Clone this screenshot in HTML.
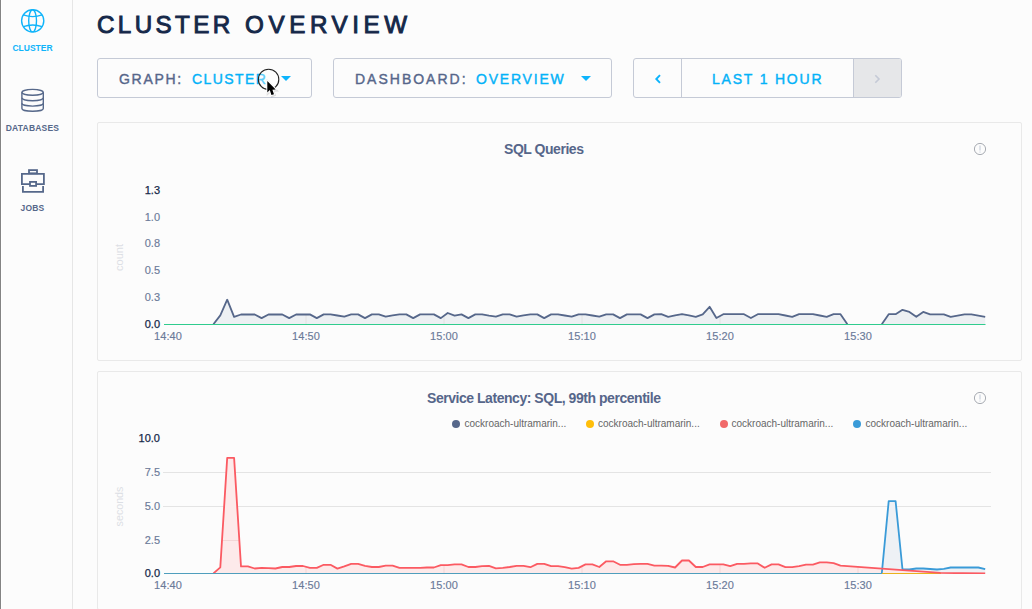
<!DOCTYPE html>
<html>
<head>
<meta charset="utf-8">
<style>
html,body{margin:0;padding:0}
body{width:1032px;height:609px;overflow:hidden;position:relative;background:#fcfcfc;font-family:"Liberation Sans",sans-serif}
.abs{position:absolute}
#edge{position:absolute;left:0;top:0;width:1px;height:609px;background:#848484}
#edge2{position:absolute;left:1px;top:0;width:1px;height:609px;background:#ffffff}
#side{position:absolute;left:2px;top:0;width:70px;height:609px;background:#fcfcfc;border-right:1px solid #e6e6e6}
.nav{position:absolute;left:0;width:65px;text-align:center;font-weight:bold;font-size:8.5px;letter-spacing:0.2px;line-height:8px;color:#56688a}
.nav.act{color:#10b4fa}
h1{position:absolute;margin:0;top:9.95px;font-size:24.2px;line-height:30px;font-weight:normal;color:#152849;-webkit-text-stroke:0.95px #152849;white-space:nowrap}
.box{position:absolute;top:58px;height:38px;border:1px solid #c5cad6;border-radius:3px;box-sizing:content-box}
.lbl{position:absolute;top:71px;font-size:14px;line-height:16px;white-space:nowrap;color:#56668a;-webkit-text-stroke:0.4px #56668a}
.lbl.val{color:#03b2f8;-webkit-text-stroke:0.4px #03b2f8}
.tri{position:absolute;width:0;height:0;border-left:5px solid transparent;border-right:5px solid transparent;border-top:5px solid #0db4fc}
.panel{position:absolute;left:97px;width:923px;height:237px;border:1px solid #e9e9e9;border-radius:2px;background:#fcfcfc}
.ttl{position:absolute;font-weight:bold;font-size:14px;letter-spacing:-0.46px;line-height:16px;color:#56668a;white-space:nowrap}
.xl{position:absolute;width:60px;text-align:center;font-size:11px;letter-spacing:0.05px;line-height:12px;color:#6b7a99;-webkit-text-stroke:0.15px #6b7a99}
.yl{position:absolute;left:120px;width:40px;text-align:right;font-size:11px;line-height:13px;color:#6b7a99;-webkit-text-stroke:0.15px #6b7a99}
.yl.b{color:#152849;-webkit-text-stroke:0.25px #152849}
.axl{position:absolute;font-size:11px;line-height:11px;color:#dcdfe5;transform:rotate(-90deg);transform-origin:center center;white-space:nowrap}
.leg{position:absolute;top:418px;font-size:10px;line-height:12px;color:#666;white-space:nowrap}
.dot{position:absolute;top:419.6px;width:8px;height:8px;border-radius:50%}
svg{position:absolute;left:0;top:0}
</style>
</head>
<body>
<div id="edge"></div><div id="edge2"></div>
<div id="side"></div>

<!-- sidebar icons -->
<svg width="72" height="609" viewBox="0 0 72 609" style="left:0;top:0">
  <g fill="none" stroke="#10b4fa" stroke-width="1.4">
    <circle cx="32.7" cy="20.8" r="11.1"/>
    <ellipse cx="32.6" cy="20.8" rx="3.9" ry="11.1"/>
    <path d="M23.3,14.9 Q32.7,18.4 42.1,14.9"/>
    <path d="M23.3,26.7 Q32.7,23.2 42.1,26.7"/>
  </g>
  <g fill="none" stroke="#56688a" stroke-width="1.4">
    <ellipse cx="32.6" cy="92.3" rx="10.7" ry="2.9"/>
    <path d="M21.9,92.3 V108.4 A10.7,2.9 0 0 0 43.3,108.4 V92.3"/>
    <path d="M21.9,97.8 A10.7,2.9 0 0 0 43.3,97.8"/>
    <path d="M21.9,103.2 A10.7,2.9 0 0 0 43.3,103.2"/>
  </g>
  <g fill="none" stroke="#56688a" stroke-width="1.8">
    <rect x="29" y="170.1" width="8" height="3.2"/>
    <path d="M30,184.1 H21.9 V173.9 H43.9 V184.1 H36.1"/>
    <rect x="30" y="181.9" width="6.1" height="4"/>
    <path d="M22.9,186.1 V191.9 H43.1 V186.1"/>
  </g>
</svg>
<div class="nav act" style="top:44px;letter-spacing:0">CLUSTER</div>
<div class="nav" style="top:124px">DATABASES</div>
<div class="nav" style="top:204px">JOBS</div>

<h1 style="left:97px;letter-spacing:3.4px">CLUSTER</h1><h1 style="left:245px;letter-spacing:4.6px">OVERVIEW</h1>

<!-- controls -->
<div class="box" style="left:97px;width:213px"></div>
<div class="lbl" style="left:119px;letter-spacing:1.7px">GRAPH:</div>
<div class="lbl val" style="left:192px;letter-spacing:1.4px">CLUSTER</div>
<div class="tri" style="left:281px;top:76px"></div>

<div class="box" style="left:333px;width:277px"></div>
<div class="lbl" style="left:355px;letter-spacing:2px">DASHBOARD:</div>
<div class="lbl val" style="left:476px;letter-spacing:1.8px">OVERVIEW</div>
<div class="tri" style="left:581px;top:76px"></div>

<div class="box" style="left:633px;width:267px;overflow:hidden">
  <div style="position:absolute;left:47px;top:0;width:1px;height:38px;background:#c5cad6"></div>
  <div style="position:absolute;left:219px;top:0;width:1px;height:38px;background:#c5cad6"></div>
  <div style="position:absolute;left:220px;top:0;width:47px;height:38px;background:#e6e7e9"></div>
</div>
<div class="lbl val" style="left:712px;letter-spacing:1.8px">LAST 1 HOUR</div>
<svg width="1032" height="120" viewBox="0 0 1032 120" style="left:0;top:0">
  <path d="M660,75.2 L656.3,79 L660,82.8" fill="none" stroke="#0db4fc" stroke-width="1.9"/>
  <path d="M875.3,75.2 L879,79 L875.3,82.8" fill="none" stroke="#c5cad6" stroke-width="1.6"/>
</svg>

<!-- panel 1 -->
<div class="panel" style="top:122px"></div>
<div class="ttl" style="left:504px;top:141px">SQL Queries</div>
<div class="yl b" style="top:183.5px">1.3</div>
<div class="yl" style="top:210.5px">1.0</div>
<div class="yl" style="top:236.7px">0.8</div>
<div class="yl" style="top:264.0px">0.5</div>
<div class="yl" style="top:290.9px">0.3</div>
<div class="yl b" style="top:318.0px">0.0</div>
<div class="xl" style="left:138.0px;top:330px">14:40</div>
<div class="xl" style="left:276.0px;top:330px">14:50</div>
<div class="xl" style="left:414.0px;top:330px">15:00</div>
<div class="xl" style="left:552.0px;top:330px">15:10</div>
<div class="xl" style="left:690.0px;top:330px">15:20</div>
<div class="xl" style="left:828.0px;top:330px">15:30</div>
<div class="axl" style="left:104.2px;top:252px;width:30px;text-align:center">count</div>

<!-- panel 2 -->
<div class="panel" style="top:371px;height:237px"></div>
<div class="ttl" style="left:427px;top:390px">Service Latency: SQL, 99th percentile</div>
<div class="dot" style="left:452px;background:#56678a"></div>
<div class="leg" style="left:464.5px">cockroach-ultramarin...</div>
<div class="dot" style="left:586px;background:#ffbe0a"></div>
<div class="leg" style="left:598px">cockroach-ultramarin...</div>
<div class="dot" style="left:719.5px;background:#f16969"></div>
<div class="leg" style="left:731.5px">cockroach-ultramarin...</div>
<div class="dot" style="left:853px;background:#3a9bd8"></div>
<div class="leg" style="left:865.5px">cockroach-ultramarin...</div>
<div class="yl b" style="top:432.3px">10.0</div>
<div class="yl" style="top:465.9px">7.5</div>
<div class="yl" style="top:500.0px">5.0</div>
<div class="yl" style="top:533.6px">2.5</div>
<div class="yl b" style="top:566.9px">0.0</div>
<div class="xl" style="left:138.0px;top:579px">14:40</div>
<div class="xl" style="left:276.0px;top:579px">14:50</div>
<div class="xl" style="left:414.0px;top:579px">15:00</div>
<div class="xl" style="left:552.0px;top:579px">15:10</div>
<div class="xl" style="left:690.0px;top:579px">15:20</div>
<div class="xl" style="left:828.0px;top:579px">15:30</div>
<div class="axl" style="left:94.1px;top:501px;width:50px;text-align:center;font-size:10.7px">seconds</div>

<svg width="1032" height="609" viewBox="0 0 1032 609" style="left:0;top:0">
  <defs>
    <clipPath id="cf1"><path d="M164.0,324.5 L213.4,324.3 L220.3,315.4 L227.2,299.7 L234.1,316.9 L241.0,314.5 L247.9,314.5 L254.7,314.5 L261.6,318.1 L268.5,314.5 L275.4,314.5 L282.3,314.5 L289.2,318.1 L296.1,314.5 L303.0,314.5 L309.9,314.4 L316.8,318.1 L323.7,314.4 L330.5,314.4 L337.4,315.5 L344.3,316.7 L351.2,314.4 L358.1,314.4 L365.0,318.1 L371.9,314.4 L378.8,314.4 L385.7,316.7 L392.6,315.4 L399.5,314.4 L406.3,314.4 L413.2,318.1 L420.1,314.4 L427.0,314.4 L433.9,314.4 L440.8,318.1 L447.7,313.0 L454.6,315.7 L461.5,314.4 L468.4,318.1 L475.3,314.4 L482.1,314.4 L489.0,315.7 L495.9,316.7 L502.8,314.4 L509.7,314.4 L516.6,316.7 L523.5,315.4 L530.4,314.4 L537.3,314.4 L544.2,318.1 L551.1,314.4 L558.0,314.4 L564.8,315.5 L571.7,316.7 L578.6,314.4 L585.5,314.4 L592.4,315.5 L599.3,316.7 L606.2,314.4 L613.1,314.4 L620.0,318.1 L626.9,314.4 L633.8,314.4 L640.6,314.4 L647.5,318.1 L654.4,314.4 L661.3,314.2 L668.2,316.8 L675.1,315.4 L682.0,314.2 L688.9,315.4 L695.8,316.8 L702.7,314.4 L709.6,306.8 L716.4,318.0 L723.3,314.2 L730.2,314.2 L737.1,314.2 L744.0,314.2 L750.9,318.0 L757.8,314.2 L764.7,314.2 L771.6,314.2 L778.5,314.2 L785.4,315.5 L792.2,316.8 L799.1,314.2 L806.0,314.2 L812.9,314.2 L819.8,315.5 L826.7,316.8 L833.6,314.2 L840.5,314.2 L847.4,324.3 L854.3,324.3 L861.2,324.3 L868.0,324.3 L874.9,324.3 L881.8,324.3 L888.7,314.2 L895.6,314.2 L902.5,309.8 L909.4,311.9 L916.3,316.8 L923.2,311.9 L930.1,314.4 L937.0,314.4 L943.8,314.4 L950.7,316.8 L957.6,315.6 L964.5,314.4 L971.4,314.4 L978.3,315.6 L985.2,316.8 L985.2,324.5 L164.0,324.5 Z"/></clipPath>
    <clipPath id="cf2"><path d="M213.4,573.4 L220.3,567.4 L227.2,457.9 L234.1,457.9 L241.0,566.4 L247.9,566.4 L254.7,568.5 L261.6,567.9 L268.5,568.2 L275.4,568.5 L282.3,567.0 L289.2,567.0 L296.1,566.0 L303.0,566.0 L309.9,567.9 L316.8,567.9 L323.7,564.8 L330.5,564.8 L337.4,568.6 L344.3,566.4 L351.2,563.9 L358.1,563.9 L365.0,565.9 L371.9,567.0 L378.8,567.0 L385.7,565.6 L392.6,565.6 L399.5,567.9 L406.3,567.9 L413.2,567.9 L420.1,567.9 L427.0,567.5 L433.9,567.5 L440.8,565.2 L447.7,565.2 L454.6,564.4 L461.5,564.4 L468.4,567.0 L475.3,567.0 L482.1,566.2 L489.0,565.9 L495.9,568.3 L502.8,567.9 L509.7,567.0 L516.6,565.9 L523.5,565.9 L530.4,567.2 L537.3,563.9 L544.2,563.9 L551.1,566.2 L558.0,566.2 L564.8,567.2 L571.7,568.7 L578.6,567.9 L585.5,564.4 L592.4,564.4 L599.3,567.0 L606.2,561.3 L613.1,561.3 L620.0,564.8 L626.9,564.8 L633.8,564.2 L640.6,563.9 L647.5,563.9 L654.4,565.6 L661.3,565.6 L668.2,565.9 L675.1,567.5 L682.0,560.5 L688.9,560.5 L695.8,567.0 L702.7,567.0 L709.6,564.4 L716.4,564.4 L723.3,564.4 L730.2,566.2 L737.1,563.9 L744.0,563.9 L750.9,563.4 L757.8,563.4 L764.7,567.8 L771.6,564.4 L778.5,564.4 L785.4,567.2 L792.2,567.2 L799.1,566.2 L806.0,564.6 L812.9,564.6 L819.8,562.3 L826.7,562.3 L833.6,563.1 L840.5,565.6 L940.5,572.9 L985.2,573.5 L985.2,573.5 L213.4,573.5 Z"/></clipPath>
    <clipPath id="ca2"><rect x="150" y="430" width="850" height="144"/></clipPath>
    <clipPath id="ca1"><rect x="150" y="180" width="850" height="145"/></clipPath>
  </defs>
  <!-- info icons -->
  <g fill="none" stroke="#a8acb3" stroke-width="1">
    <circle cx="980" cy="149" r="5.6"/>
    <circle cx="980" cy="398" r="5.6"/>
  </g>
  <g stroke="#b9c3d3" stroke-width="0.9">
    <line x1="980" y1="145.5" x2="980" y2="150.5"/>
    <line x1="980" y1="151.6" x2="980" y2="152.6"/>
    <line x1="980" y1="394.5" x2="980" y2="399.5"/>
    <line x1="980" y1="400.6" x2="980" y2="401.6"/>
  </g>
  <!-- chart 1 -->
  <path d="M164.0,324.5 L213.4,324.3 L220.3,315.4 L227.2,299.7 L234.1,316.9 L241.0,314.5 L247.9,314.5 L254.7,314.5 L261.6,318.1 L268.5,314.5 L275.4,314.5 L282.3,314.5 L289.2,318.1 L296.1,314.5 L303.0,314.5 L309.9,314.4 L316.8,318.1 L323.7,314.4 L330.5,314.4 L337.4,315.5 L344.3,316.7 L351.2,314.4 L358.1,314.4 L365.0,318.1 L371.9,314.4 L378.8,314.4 L385.7,316.7 L392.6,315.4 L399.5,314.4 L406.3,314.4 L413.2,318.1 L420.1,314.4 L427.0,314.4 L433.9,314.4 L440.8,318.1 L447.7,313.0 L454.6,315.7 L461.5,314.4 L468.4,318.1 L475.3,314.4 L482.1,314.4 L489.0,315.7 L495.9,316.7 L502.8,314.4 L509.7,314.4 L516.6,316.7 L523.5,315.4 L530.4,314.4 L537.3,314.4 L544.2,318.1 L551.1,314.4 L558.0,314.4 L564.8,315.5 L571.7,316.7 L578.6,314.4 L585.5,314.4 L592.4,315.5 L599.3,316.7 L606.2,314.4 L613.1,314.4 L620.0,318.1 L626.9,314.4 L633.8,314.4 L640.6,314.4 L647.5,318.1 L654.4,314.4 L661.3,314.2 L668.2,316.8 L675.1,315.4 L682.0,314.2 L688.9,315.4 L695.8,316.8 L702.7,314.4 L709.6,306.8 L716.4,318.0 L723.3,314.2 L730.2,314.2 L737.1,314.2 L744.0,314.2 L750.9,318.0 L757.8,314.2 L764.7,314.2 L771.6,314.2 L778.5,314.2 L785.4,315.5 L792.2,316.8 L799.1,314.2 L806.0,314.2 L812.9,314.2 L819.8,315.5 L826.7,316.8 L833.6,314.2 L840.5,314.2 L847.4,324.3 L854.3,324.3 L861.2,324.3 L868.0,324.3 L874.9,324.3 L881.8,324.3 L888.7,314.2 L895.6,314.2 L902.5,309.8 L909.4,311.9 L916.3,316.8 L923.2,311.9 L930.1,314.4 L937.0,314.4 L943.8,314.4 L950.7,316.8 L957.6,315.6 L964.5,314.4 L971.4,314.4 L978.3,315.6 L985.2,316.8 L985.2,324.5 L164.0,324.5 Z" fill="#edf0f3"/>
  <g stroke="#e2e2e2" stroke-width="1" clip-path="url(#cf1)"><line x1="168.0" y1="190" x2="168.0" y2="324" /><line x1="306.0" y1="190" x2="306.0" y2="324" /><line x1="444.0" y1="190" x2="444.0" y2="324" /><line x1="582.0" y1="190" x2="582.0" y2="324" /><line x1="720.0" y1="190" x2="720.0" y2="324" /><line x1="858.0" y1="190" x2="858.0" y2="324" /></g>
  <path d="M213.4,324.3 L220.3,315.4 L227.2,299.7 L234.1,316.9 L241.0,314.5 L247.9,314.5 L254.7,314.5 L261.6,318.1 L268.5,314.5 L275.4,314.5 L282.3,314.5 L289.2,318.1 L296.1,314.5 L303.0,314.5 L309.9,314.4 L316.8,318.1 L323.7,314.4 L330.5,314.4 L337.4,315.5 L344.3,316.7 L351.2,314.4 L358.1,314.4 L365.0,318.1 L371.9,314.4 L378.8,314.4 L385.7,316.7 L392.6,315.4 L399.5,314.4 L406.3,314.4 L413.2,318.1 L420.1,314.4 L427.0,314.4 L433.9,314.4 L440.8,318.1 L447.7,313.0 L454.6,315.7 L461.5,314.4 L468.4,318.1 L475.3,314.4 L482.1,314.4 L489.0,315.7 L495.9,316.7 L502.8,314.4 L509.7,314.4 L516.6,316.7 L523.5,315.4 L530.4,314.4 L537.3,314.4 L544.2,318.1 L551.1,314.4 L558.0,314.4 L564.8,315.5 L571.7,316.7 L578.6,314.4 L585.5,314.4 L592.4,315.5 L599.3,316.7 L606.2,314.4 L613.1,314.4 L620.0,318.1 L626.9,314.4 L633.8,314.4 L640.6,314.4 L647.5,318.1 L654.4,314.4 L661.3,314.2 L668.2,316.8 L675.1,315.4 L682.0,314.2 L688.9,315.4 L695.8,316.8 L702.7,314.4 L709.6,306.8 L716.4,318.0 L723.3,314.2 L730.2,314.2 L737.1,314.2 L744.0,314.2 L750.9,318.0 L757.8,314.2 L764.7,314.2 L771.6,314.2 L778.5,314.2 L785.4,315.5 L792.2,316.8 L799.1,314.2 L806.0,314.2 L812.9,314.2 L819.8,315.5 L826.7,316.8 L833.6,314.2 L840.5,314.2 L847.4,324.3 M881.8,324.3 L888.7,314.2 L895.6,314.2 L902.5,309.8 L909.4,311.9 L916.3,316.8 L923.2,311.9 L930.1,314.4 L937.0,314.4 L943.8,314.4 L950.7,316.8 L957.6,315.6 L964.5,314.4 L971.4,314.4 L978.3,315.6 L985.2,316.8" fill="none" stroke="#56678a" stroke-width="1.8" stroke-linejoin="round" clip-path="url(#ca1)"/>
  <line x1="164" y1="324.5" x2="985.5" y2="324.5" stroke="#30cc8e" stroke-width="1.2"/>
  <!-- chart 2 grid -->
  <g stroke="#e4e4e4" stroke-width="1">
    <line x1="163" y1="472.5" x2="991" y2="472.5"/>
    <line x1="163" y1="506.5" x2="991" y2="506.5"/>
  </g>
  <path d="M164.0,573.5 L881.8,573.4 L888.7,501.2 L895.6,501.2 L902.5,569.5 L909.4,569.5 L916.3,568.5 L923.2,568.5 L930.1,569.0 L937.0,569.5 L943.8,568.9 L950.7,567.5 L957.6,567.5 L964.5,567.5 L971.4,567.5 L978.3,567.5 L985.2,569.1 L985.2,573.5 L164.0,573.5 Z" fill="#eef1f5"/>
  <path d="M213.4,573.4 L220.3,567.4 L227.2,457.9 L234.1,457.9 L241.0,566.4 L247.9,566.4 L254.7,568.5 L261.6,567.9 L268.5,568.2 L275.4,568.5 L282.3,567.0 L289.2,567.0 L296.1,566.0 L303.0,566.0 L309.9,567.9 L316.8,567.9 L323.7,564.8 L330.5,564.8 L337.4,568.6 L344.3,566.4 L351.2,563.9 L358.1,563.9 L365.0,565.9 L371.9,567.0 L378.8,567.0 L385.7,565.6 L392.6,565.6 L399.5,567.9 L406.3,567.9 L413.2,567.9 L420.1,567.9 L427.0,567.5 L433.9,567.5 L440.8,565.2 L447.7,565.2 L454.6,564.4 L461.5,564.4 L468.4,567.0 L475.3,567.0 L482.1,566.2 L489.0,565.9 L495.9,568.3 L502.8,567.9 L509.7,567.0 L516.6,565.9 L523.5,565.9 L530.4,567.2 L537.3,563.9 L544.2,563.9 L551.1,566.2 L558.0,566.2 L564.8,567.2 L571.7,568.7 L578.6,567.9 L585.5,564.4 L592.4,564.4 L599.3,567.0 L606.2,561.3 L613.1,561.3 L620.0,564.8 L626.9,564.8 L633.8,564.2 L640.6,563.9 L647.5,563.9 L654.4,565.6 L661.3,565.6 L668.2,565.9 L675.1,567.5 L682.0,560.5 L688.9,560.5 L695.8,567.0 L702.7,567.0 L709.6,564.4 L716.4,564.4 L723.3,564.4 L730.2,566.2 L737.1,563.9 L744.0,563.9 L750.9,563.4 L757.8,563.4 L764.7,567.8 L771.6,564.4 L778.5,564.4 L785.4,567.2 L792.2,567.2 L799.1,566.2 L806.0,564.6 L812.9,564.6 L819.8,562.3 L826.7,562.3 L833.6,563.1 L840.5,565.6 L940.5,572.9 L985.2,573.5 L985.2,573.5 L213.4,573.5 Z" fill="#fdeaea"/>
  <g stroke="#f3d6d6" stroke-width="1" clip-path="url(#cf2)"><line x1="168.0" y1="440" x2="168.0" y2="573" /><line x1="306.0" y1="440" x2="306.0" y2="573" /><line x1="444.0" y1="440" x2="444.0" y2="573" /><line x1="582.0" y1="440" x2="582.0" y2="573" /><line x1="720.0" y1="440" x2="720.0" y2="573" /><line x1="858.0" y1="440" x2="858.0" y2="573" /><line x1="163" y1="540.5" x2="991" y2="540.5"/></g>
  <path d="M881.8,573.4 L888.7,501.2 L895.6,501.2 L902.5,569.5 L909.4,569.5 L916.3,568.5 L923.2,568.5 L930.1,569.0 L937.0,569.5 L943.8,568.9 L950.7,567.5 L957.6,567.5 L964.5,567.5 L971.4,567.5 L978.3,567.5 L985.2,569.1" fill="none" stroke="#3a9bd8" stroke-width="1.8" stroke-linejoin="round" clip-path="url(#ca2)"/>
  <line x1="881.6" y1="573.5" x2="941" y2="573.5" stroke="#e9b21c" stroke-width="1.1"/>
  <path d="M213.4,573.4 L220.3,567.4 L227.2,457.9 L234.1,457.9 L241.0,566.4 L247.9,566.4 L254.7,568.5 L261.6,567.9 L268.5,568.2 L275.4,568.5 L282.3,567.0 L289.2,567.0 L296.1,566.0 L303.0,566.0 L309.9,567.9 L316.8,567.9 L323.7,564.8 L330.5,564.8 L337.4,568.6 L344.3,566.4 L351.2,563.9 L358.1,563.9 L365.0,565.9 L371.9,567.0 L378.8,567.0 L385.7,565.6 L392.6,565.6 L399.5,567.9 L406.3,567.9 L413.2,567.9 L420.1,567.9 L427.0,567.5 L433.9,567.5 L440.8,565.2 L447.7,565.2 L454.6,564.4 L461.5,564.4 L468.4,567.0 L475.3,567.0 L482.1,566.2 L489.0,565.9 L495.9,568.3 L502.8,567.9 L509.7,567.0 L516.6,565.9 L523.5,565.9 L530.4,567.2 L537.3,563.9 L544.2,563.9 L551.1,566.2 L558.0,566.2 L564.8,567.2 L571.7,568.7 L578.6,567.9 L585.5,564.4 L592.4,564.4 L599.3,567.0 L606.2,561.3 L613.1,561.3 L620.0,564.8 L626.9,564.8 L633.8,564.2 L640.6,563.9 L647.5,563.9 L654.4,565.6 L661.3,565.6 L668.2,565.9 L675.1,567.5 L682.0,560.5 L688.9,560.5 L695.8,567.0 L702.7,567.0 L709.6,564.4 L716.4,564.4 L723.3,564.4 L730.2,566.2 L737.1,563.9 L744.0,563.9 L750.9,563.4 L757.8,563.4 L764.7,567.8 L771.6,564.4 L778.5,564.4 L785.4,567.2 L792.2,567.2 L799.1,566.2 L806.0,564.6 L812.9,564.6 L819.8,562.3 L826.7,562.3 L833.6,563.1 L840.5,565.6 L940.5,572.9 L985.2,573.5" fill="none" stroke="#fb5a62" stroke-width="1.8" stroke-linejoin="round" clip-path="url(#ca2)"/>
  <line x1="164" y1="573.5" x2="882" y2="573.5" stroke="#4f9ebd" stroke-width="1.1"/>

  <!-- cursor -->
  <circle cx="268.6" cy="79.4" r="10.2" fill="rgba(255,255,255,0.35)" stroke="#222" stroke-width="1.1"/>
  <g transform="translate(267.3,81.1)">
    <path d="M0,0 L0,11.3 L2.5,9 L4.1,14 L6.7,13.1 L5.1,8.6 L8.4,8.4 Z" fill="rgba(0,0,0,0.18)" transform="translate(0.6,0.9)" stroke="rgba(0,0,0,0.12)" stroke-width="2.4"/>
    <path d="M0,0 L0,11.3 L2.5,9 L4.1,14 L6.7,13.1 L5.1,8.6 L8.4,8.4 Z" fill="#fff" stroke="#fff" stroke-width="2" stroke-linejoin="round"/>
    <path d="M0,0 L0,11.3 L2.5,9 L4.1,14 L6.7,13.1 L5.1,8.6 L8.4,8.4 Z" fill="#000"/>
  </g>
</svg>
</body>
</html>
